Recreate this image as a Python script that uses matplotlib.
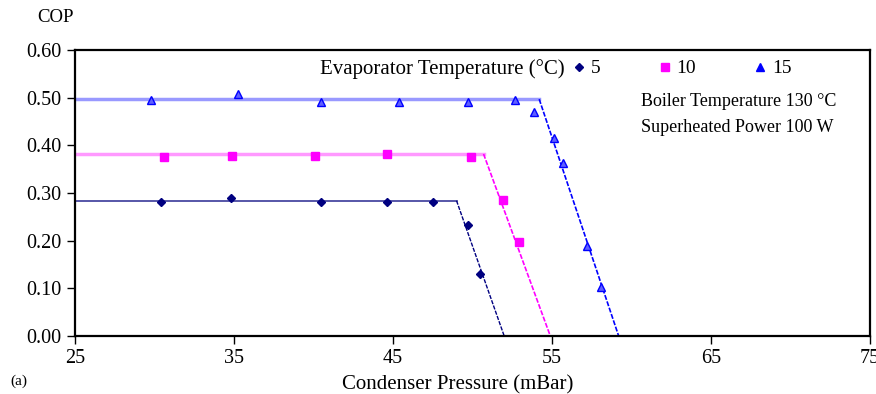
import matplotlib
matplotlib.use("Agg")
import matplotlib.pyplot as plt
from matplotlib.lines import Line2D

plt.rcParams["font.family"] = ["Liberation Serif", "DejaVu Serif"]

# measured points (condenser pressure in mBar, COP)
p_5 = [30.4, 34.8, 40.5, 44.6, 47.5, 49.7, 50.5]
cop_5 = [0.282, 0.289, 0.282, 0.282, 0.281, 0.233, 0.130]

p_10 = [30.6, 34.9, 40.1, 44.6, 49.9, 51.9, 52.9]
cop_10 = [0.375, 0.378, 0.378, 0.382, 0.376, 0.285, 0.198]

p_15 = [29.8, 35.25, 40.5, 45.4, 49.7, 52.7, 53.9, 55.1, 55.7, 57.2, 58.1]
cop_15 = [0.496, 0.508, 0.492, 0.492, 0.491, 0.495, 0.469, 0.415, 0.364, 0.189, 0.103]

# fitted trend lines (flat part then falling part)
fit_p_5 = [25, 49.0, 52.0]
fit_cop_5 = [0.284, 0.284, 0.0]
fit_p_10 = [25, 50.7, 54.9]
fit_cop_10 = [0.382, 0.382, 0.0]
fit_p_15 = [25, 54.2, 59.2]
fit_cop_15 = [0.497, 0.497, 0.0]

c5 = "#000080"
c10 = "#ff00ff"
c15 = "#0000ff"

fig = plt.figure(figsize=(8.76, 3.94), dpi=100)
ax = fig.add_axes([0.0856, 0.147, 0.9074, 0.726])

# flat sections drawn lighter and wider, slopes thinner
ax.plot(fit_p_5[:2], fit_cop_5[:2], color="#3a3a9a", lw=1.2)
ax.plot(fit_p_5[1:], fit_cop_5[1:], color=c5, lw=1.0, ls=(0, (3, 1)))
ax.plot(fit_p_10[:2], fit_cop_10[:2], color="#ff99ff", lw=2.5)
ax.plot(fit_p_10[1:], fit_cop_10[1:], color=c10, lw=1.2, ls=(0, (3, 1)))
ax.plot(fit_p_15[:2], fit_cop_15[:2], color="#9999ff", lw=2.5)
ax.plot(fit_p_15[1:], fit_cop_15[1:], color=c15, lw=1.2, ls=(0, (3, 1)))

ax.plot(p_5, cop_5, ls="none", marker="D", ms=4, color=c5)
ax.plot(p_10, cop_10, ls="none", marker="s", ms=6, color=c10)
ax.plot(p_15, cop_15, ls="none", marker="^", ms=6, color=c15,
        markerfacecolor="#6060ff")

ax.set_xlim(25, 75)
ax.set_ylim(0, 0.6)
ax.set_xticks([25, 35, 45, 55, 65, 75])
ax.set_yticks([0, 0.1, 0.2, 0.3, 0.4, 0.5, 0.6])
ax.set_yticklabels(["0.00", "0.10", "0.20", "0.30", "0.40", "0.50", "0.60"])
ax.tick_params(labelsize=14.5, length=6, width=1, direction="out")
for s in ax.spines.values():
    s.set_linewidth(1.6)

fig.text(0.043, 0.955, "COP", fontsize=13.5, va="center")
fig.text(0.012, 0.033, "(a)", fontsize=11, va="center")
fig.text(0.522, 0.024, "Condenser Pressure (mBar)", fontsize=15, ha="center",
         va="center")

ax.text(40.4, 0.561, "Evaporator Temperature (\u00b0C)", fontsize=15,
        va="center")
handles = [
    Line2D([], [], ls="none", marker="D", ms=4, color=c5),
    Line2D([], [], ls="none", marker="s", ms=6, color=c10),
    Line2D([], [], ls="none", marker="^", ms=6, color=c15),
]
ax.legend(handles, ["5", "10", "15"], ncol=3, frameon=False, fontsize=14,
          loc="center left", bbox_to_anchor=(0.6, 0.935),
          handlelength=1.0, handletextpad=0.1, columnspacing=2.8)

ax.text(60.6, 0.492, "Boiler Temperature 130 \u00b0C", fontsize=13,
        va="center")
ax.text(60.6, 0.438, "Superheated Power 100 W", fontsize=13, va="center")

fig.savefig("out.png", dpi=100)
